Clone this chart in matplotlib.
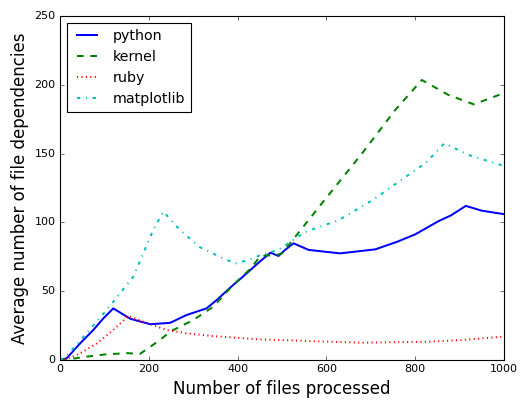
import matplotlib
matplotlib.use("Agg")
import matplotlib.pyplot as plt

plt.style.use("classic")
plt.rcParams["font.size"] = 10

# values (files processed -> avg dependencies)
py_x = [0, 15, 45, 75, 97, 120, 158, 203, 248, 285, 330, 353, 390, 410, 450, 474, 492,
        507, 526, 560, 631, 710, 760, 800, 853, 880, 914, 950, 1000]
py_y = [0, 1.2, 12, 21.8, 30, 37.5, 30, 26, 27, 32.7, 37.5, 43.6, 54.5, 60, 71.5, 78, 75.6,
        80, 84.8, 80, 77.5, 80.4, 86, 91.3, 101, 105, 112, 108.5, 106]

kern_x = [0, 20, 50, 100, 150, 180, 225, 248, 300, 345, 390, 428, 450, 462, 485, 500, 530,
          590, 680, 755, 815, 875, 932, 1000]
kern_y = [0, 0.5, 2, 4, 5, 4.4, 14.5, 20.6, 29, 38.7, 54.5, 66, 75, 76, 76, 77.5, 89.6,
          113.9, 150, 181.7, 203.5, 192.6, 185.8, 194]

ruby_x = [0, 15, 45, 83, 120, 154, 195, 240, 285, 345, 450, 605, 680, 830, 905, 1000]
ruby_y = [0, 0.6, 4.8, 12, 21.8, 32, 27, 21.8, 19.4, 17.4, 15, 13.3, 12.6, 13.3, 14.5, 17]

mpl_x = [0, 15, 60, 105, 165, 210, 233, 270, 315, 375, 398, 435, 450, 492, 552, 628, 703,
         778, 823, 866, 920, 1000]
mpl_y = [0, 3, 19.4, 36.3, 60.5, 94.5, 107.8, 94.5, 82, 72.7, 70.2, 73.9, 76, 80, 93, 101.7,
         116, 133, 143, 157.5, 149, 141]

fig = plt.figure(figsize=(524 / 80, 401 / 80), dpi=80)
ax = fig.add_axes([60 / 524, 1 - 360 / 401, 444 / 524, 344 / 401])

ax.plot(py_x, py_y, "b-", lw=1.8, label="python")
ax.plot(kern_x, kern_y, "g--", lw=1.8, label="kernel")
ax.plot(ruby_x, ruby_y, "r:", lw=1.8, label="ruby")
ax.plot(mpl_x, mpl_y, "c-.", lw=1.8, label="matplotlib")

ax.set_xlim(0, 1000)
ax.set_ylim(0, 250)
ax.set_xlabel("Number of files processed", fontsize=15)
ax.set_ylabel("Average number of file dependencies", fontsize=15)
ax.legend(loc="upper left", fontsize=12.8)

fig.savefig("out.png", dpi=80)
